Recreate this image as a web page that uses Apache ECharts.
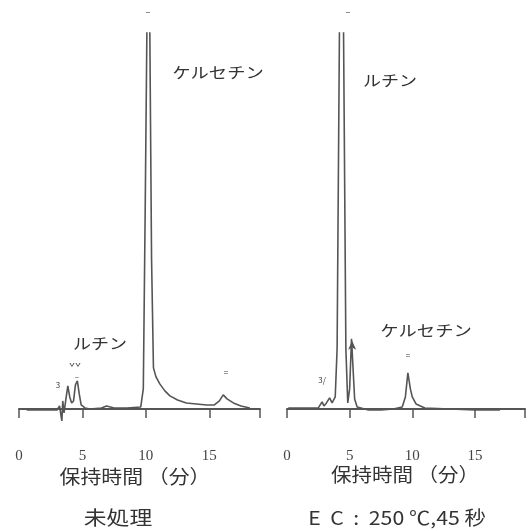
<!DOCTYPE html>
<html>
<head>
<meta charset="utf-8">
<script src="https://cdn.jsdelivr.net/npm/echarts@6/dist/echarts.min.js"></script>
<style>
  html, body { margin: 0; padding: 0; background: #fff; }
  #chart { width: 529px; height: 531px; }
</style>
</head>
<body>
<div id="chart"></div>
<script>
// 未処理 (retention time in min, detector response)
const untreatedTime = [0.6, 3.0, 3.2, 3.3, 3.38, 3.45, 3.55, 3.7, 3.85, 4.0, 4.15, 4.3, 4.45, 4.6, 4.75, 4.9, 5.2, 5.6, 6.5, 6.9, 7.5, 8.5, 9.6, 9.8, 9.95, 10.1, 10.3, 10.45, 10.6, 10.8, 11.1, 11.5, 11.9, 12.5, 13.2, 14.0, 14.8, 15.4, 15.8, 16.1, 16.4, 16.9, 17.5, 18.2]
const untreatedValue = [-1, -1, 3, -6, -12, 8, -4, 10, 23, 12, 6, 8, 24, 28, 15, 4, 1, 0, 1, 3, 1, 1, 2, 20, 200, 400, 400, 150, 41, 32, 25, 18, 13, 9, 6, 5, 4, 4, 8, 14, 10, 6, 3, 1]

// EC : 250 ℃, 45 秒
const ecTime = [0.1, 2.5, 2.8, 2.95, 3.15, 3.4, 3.6, 3.85, 4.0, 4.2, 4.5, 4.7, 4.85, 5.0, 5.15, 5.25, 5.4, 5.6, 6.5, 7.5, 8.5, 9.2, 9.45, 9.65, 9.85, 10.0, 10.3, 11.0, 13.0, 15.0, 17.0]
const ecValue = [1, 1, 7, 3, 6, 11, 6, 12, 60, 400, 400, 60, 6, 20, 70, 70, 10, 2, -1, -1, 0, 2, 12, 36, 20, 12, 5, 1, 0, -1, -1]

const xTicks = [0, 5, 10, 15]
const arrowPeak = [5.2, 70]

const toPairs = (xs, ys) => xs.map((x, i) => [x, ys[i]])

const chart = echarts.init(document.getElementById('chart'))

const axisCommon = {
  type: 'value',
  min: 0,
  max: 19,
  interval: 5,
  axisLine: { lineStyle: { color: '#555', width: 2 } },
  axisTick: { length: 9, lineStyle: { color: '#555', width: 1.5 } },
  splitLine: { show: false },
  axisLabel: {
    color: '#444',
    fontFamily: 'Liberation Serif',
    fontSize: 15,
    margin: 20,
    formatter: v => (xTicks.includes(v) ? String(v) : '')
  }
}

const yCommon = {
  type: 'value',
  min: -20,
  max: 375,
  show: false
}

const lineStyle = { color: '#555', width: 1.6 }

// 文字ラベル
const label = (text, x, y, size, sx, font) => ({
  type: 'text',
  x: x,
  y: y,
  scaleX: sx,
  style: {
    text: text,
    fill: '#333',
    font: `${size}px ${font || '"Noto Sans CJK JP"'}`,
    textAlign: 'center',
    textVerticalAlign: 'middle'
  }
})

const option = {
  backgroundColor: '#fff',
  animation: false,
  grid: [
    { left: 19, top: 33, width: 241, bottom: 102 },
    { left: 287, top: 33, width: 238, bottom: 102 }
  ],
  xAxis: [
    Object.assign({ gridIndex: 0 }, axisCommon),
    Object.assign({ gridIndex: 1 }, axisCommon)
  ],
  yAxis: [
    Object.assign({ gridIndex: 0 }, yCommon),
    Object.assign({ gridIndex: 1 }, yCommon)
  ],
  series: [
    {
      type: 'line',
      xAxisIndex: 0,
      yAxisIndex: 0,
      data: toPairs(untreatedTime, untreatedValue),
      showSymbol: false,
      clip: true,
      lineStyle: lineStyle
    },
    {
      type: 'line',
      xAxisIndex: 1,
      yAxisIndex: 1,
      data: toPairs(ecTime, ecValue),
      showSymbol: false,
      clip: true,
      lineStyle: lineStyle,
      markPoint: {
        symbol: 'arrow',
        symbolSize: [6, 9],
        symbolOffset: [0, 2],
        itemStyle: { color: '#555' },
        label: { show: false },
        data: [{ coord: arrowPeak }]
      }
    }
  ],
  graphic: [
    label('ケルセチン', 218, 72, 15, 1.22),
    label('ルチン', 100, 343, 15, 1.2),
    label('ルチン', 390, 80, 15, 1.2),
    label('ケルセチン', 426, 330, 15, 1.22),
    label('–', 148, 12, 9, 1),
    label('–', 348, 12, 9, 1),
    label('=', 226, 372, 8, 1),
    label('=', 408, 355, 8, 1),
    label('ˇˇ', 75, 368, 10, 1),
    label('–', 77, 377, 8, 1),
    label('3', 58, 385, 8, 1),
    label('3/', 322, 380, 8, 1),
    label('保持時間 （分）', 135, 477, 19, 1.1),
    label('保持時間 （分）', 405, 475, 19, 1.08),
    label('未処理', 118, 518, 19, 1.2),
    label('E  C  :  250 ℃,45 秒', 397, 518, 19, 1.12)
  ]
}

chart.setOption(option)

window.addEventListener('resize', () => {
  chart.resize()
})
</script>
</body>
</html>
